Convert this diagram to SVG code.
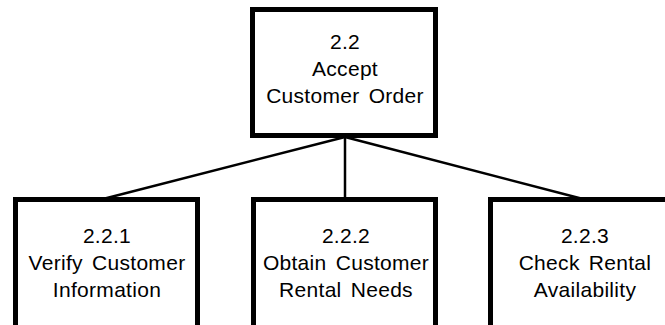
<svg xmlns="http://www.w3.org/2000/svg" width="665" height="325" viewBox="0 0 665 325">
<style>
.box{fill:#fff;stroke:#000;stroke-width:5}
.lbl{font-family:"Liberation Sans",Arial,sans-serif;font-size:21px;fill:#000;text-anchor:middle;letter-spacing:0.3px;word-spacing:3px}
.con{stroke:#000;stroke-width:2.5;fill:none}
</style>
<rect width="665" height="325" fill="#fff"/>
<g id="connectors">
<line class="con" x1="345" y1="137" x2="103" y2="199"/>
<line class="con" x1="345" y1="137" x2="345" y2="199"/>
<line class="con" x1="345" y1="137" x2="583" y2="199"/>
</g>
<g id="n2_2">
<rect class="box" x="252.5" y="9.5" width="183" height="126"/>
<text class="lbl" x="345" y="49">2.2</text>
<text class="lbl" x="345" y="76">Accept</text>
<text class="lbl" x="345" y="103">Customer Order</text>
</g>
<g id="n2_2_1">
<rect class="box" x="15.5" y="199.5" width="182" height="128"/>
<text class="lbl" x="107" y="243">2.2.1</text>
<text class="lbl" x="107" y="270">Verify Customer</text>
<text class="lbl" x="107" y="297">Information</text>
</g>
<g id="n2_2_2">
<rect class="box" x="253.5" y="199.5" width="182" height="128"/>
<text class="lbl" x="346" y="243">2.2.2</text>
<text class="lbl" x="346" y="270">Obtain Customer</text>
<text class="lbl" x="346" y="297">Rental Needs</text>
</g>
<g id="n2_2_3">
<rect class="box" x="490.5" y="199.5" width="182" height="128"/>
<text class="lbl" x="585" y="243">2.2.3</text>
<text class="lbl" x="585" y="270">Check Rental</text>
<text class="lbl" x="585" y="297">Availability</text>
</g>
</svg>
